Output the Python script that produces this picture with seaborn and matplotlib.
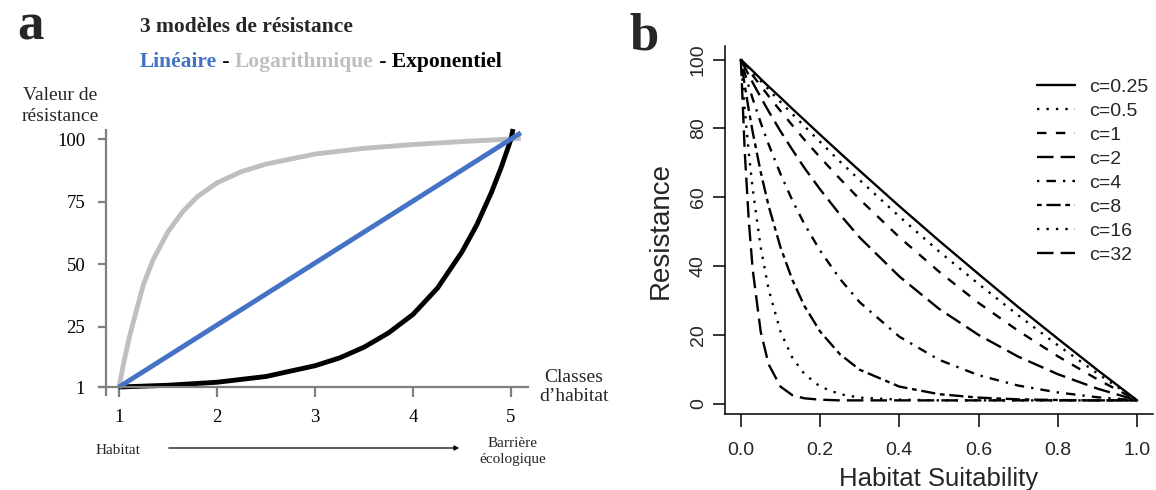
import pandas as pd
import matplotlib.pyplot as plt
import seaborn as sns
from matplotlib.lines import Line2D

# ---- panel a : 3 modeles de resistance
classes_lin = [1, 2, 3, 4, 5, 5.1]
res_lin = [1, 25.75, 50.5, 75.25, 100, 102.5]
classes_log = [1, 1.05, 1.1, 1.18, 1.25, 1.35, 1.5, 1.65, 1.8, 2, 2.25, 2.5, 3, 3.5, 4, 4.5, 5, 5.1]
res_log = [1, 11, 20, 32, 42, 52, 63, 71, 77, 82.5, 87, 90, 94, 96.3, 97.8, 99, 100, 100.3]
classes_exp = [1, 1.5, 2, 2.5, 3, 3.25, 3.5, 3.75, 4, 4.25, 4.5, 4.65, 4.8, 4.9, 5, 5.02]
res_exp = [1, 1.7, 2.9, 5.2, 9.5, 12.6, 16.9, 22.6, 30, 40.5, 55, 65.7, 78.7, 88.7, 100, 104]
yticks_a = [1, 25, 50, 75, 100]
xticks_a = [1, 2, 3, 4, 5]

# ---- panel b : resistance vs habitat suitability
suitability = [0, 0.01, 0.02, 0.03, 0.05, 0.07, 0.1, 0.13, 0.16, 0.2, 0.25,
               0.3, 0.4, 0.5, 0.6, 0.7, 0.8, 0.9, 1.0]
r_c025 = [100, 98.9, 97.8, 96.7, 94.4, 92.2, 89.0, 85.7, 82.5, 78.2, 72.9, 67.7, 57.4, 47.4, 37.7, 28.1, 18.9, 9.8, 1]
r_c05 = [100, 98.7, 97.5, 96.3, 93.8, 91.3, 87.7, 84.2, 80.7, 76.1, 70.4, 65.0, 54.4, 44.3, 34.8, 25.7, 17.0, 8.8, 1]
r_c1 = [100, 98.4, 96.9, 95.4, 92.4, 89.4, 85.1, 80.9, 76.8, 71.6, 65.4, 59.4, 48.4, 38.4, 29.3, 21.2, 13.8, 7.1, 1]
r_c2 = [100, 97.7, 95.5, 93.3, 89.1, 85.0, 79.2, 73.8, 68.6, 62.3, 55.0, 48.3, 37.0, 27.6, 20.0, 13.7, 8.6, 4.4, 1]
r_c4 = [100, 96.0, 92.2, 88.6, 81.7, 75.4, 66.8, 59.1, 52.3, 44.5, 36.3, 29.5, 19.5, 12.8, 8.3, 5.3, 3.3, 1.9, 1]
r_c8 = [100, 92.4, 85.4, 78.9, 67.4, 57.5, 45.5, 36.0, 28.5, 21.0, 14.4, 9.9, 5.0, 2.8, 1.8, 1.3, 1.1, 1.0, 1]
r_c16 = [100, 85.4, 72.9, 62.3, 45.5, 33.3, 21.0, 13.4, 8.7, 5.0, 2.8, 1.8, 1.2, 1.0, 1, 1, 1, 1, 1]
r_c32 = [100, 72.9, 53.2, 38.9, 21.0, 11.5, 5.0, 2.5, 1.6, 1.2, 1.0, 1, 1, 1, 1, 1, 1, 1, 1]
c_labels = ['c=0.25', 'c=0.5', 'c=1', 'c=2', 'c=4', 'c=8', 'c=16', 'c=32']
c_series = [r_c025, r_c05, r_c1, r_c2, r_c4, r_c8, r_c16, r_c32]

sns.set_theme(style='ticks')
plt.rcParams['font.family'] = ['Liberation Serif', 'DejaVu Serif']

W, H = 1156, 490
fig = plt.figure(figsize=(W / 100, H / 100), dpi=100)


def fpos(x, y):
    # pixel position (from top left) -> figure fraction
    return x / W, 1 - y / H


BLUE = '#4472C4'
GREY = '#BFBFBF'
AXGREY = '#7F7F7F'

# ================= panel a =================
ax_a = fig.add_axes([99 / W, 1 - 395 / H, (528 - 99) / W, (395 - 124) / H])
df_a = pd.DataFrame({
    'classe': classes_log + classes_exp + classes_lin,
    'valeur': res_log + res_exp + res_lin,
    'modele': ['Logarithmique'] * len(classes_log) + ['Exponentiel'] * len(classes_exp)
              + ['Linéaire'] * len(classes_lin),
})
sns.lineplot(data=df_a, x='classe', y='valeur', hue='modele',
             hue_order=['Logarithmique', 'Exponentiel', 'Linéaire'],
             palette={'Logarithmique': GREY, 'Exponentiel': 'black', 'Linéaire': BLUE},
             estimator=None, lw=3.5, legend=False, ax=ax_a)
for ln in ax_a.lines:
    ln.set_clip_on(False)
    ln.set_solid_capstyle('butt')
    ln.set_solid_joinstyle('round')

ax_a.set_xlim(0.796, 5.173)
ax_a.set_ylim(-2.19, 106)
ax_a.spines[['top', 'right']].set_visible(False)
ax_a.spines['left'].set_position(('data', 0.867))
ax_a.spines['left'].set_bounds(-2.19, 103.6)
ax_a.spines['bottom'].set_position(('data', 1))
for s in ['left', 'bottom']:
    ax_a.spines[s].set_color(AXGREY)
    ax_a.spines[s].set_linewidth(1.6)
ax_a.set_xticks(xticks_a)
ax_a.set_yticks(yticks_a)
ax_a.tick_params(axis='both', colors=AXGREY, width=1.6, labelcolor='black', labelsize=13.5)
ax_a.tick_params(axis='y', length=6, pad=9)
ax_a.tick_params(axis='x', length=7, pad=9)
ax_a.set_xlabel('')
ax_a.set_ylabel('')

fig.text(*fpos(30, 40), 'a', fontsize=38, fontweight='bold', ha='center', va='baseline')
fig.text(*fpos(140, 27), '3 modèles de résistance', fontsize=15.5, fontweight='bold', va='center')

t = fig.text(*fpos(140, 62), 'Linéaire', color=BLUE, fontsize=15.5, fontweight='bold', va='center')
for part, col in [(' - ', 'black'), ('Logarithmique', GREY), (' - Exponentiel', 'black')]:
    t = ax_a.annotate(part, xy=(1, 0), xycoords=t, ha='left', va='bottom',
                      color=col, fontsize=15.5, fontweight='bold', annotation_clip=False)

fig.text(*fpos(60, 106), 'Valeur de\nrésistance', fontsize=14, ha='center', va='center',
         linespacing=1.25)
fig.text(*fpos(574, 387), 'Classes\nd\u2019habitat', fontsize=14, ha='center', va='center',
         linespacing=1.2)
fig.text(*fpos(118, 450), 'Habitat', fontsize=11, ha='center', va='center')
fig.text(*fpos(513, 451), 'Barrière\nécologique', fontsize=11, ha='center', va='center',
         linespacing=1.3)
ax_a.annotate('', xy=fpos(462, 448), xytext=fpos(166, 448), xycoords='figure fraction',
              textcoords='figure fraction',
              arrowprops=dict(arrowstyle='-|>', color='black', lw=0.9, mutation_scale=7))

# ================= panel b =================
ax_b = fig.add_axes([725 / W, 1 - 414 / H, (1153 - 725) / W, (414 - 46) / H])
df_b = pd.DataFrame({
    'h': suitability * len(c_labels),
    'R': [v for serie in c_series for v in serie],
    'c': [lab for lab in c_labels for _ in suitability],
})
dash_map = {
    'c=0.25': '',
    'c=0.5': (1, 3),
    'c=1': (4, 4),
    'c=2': (7, 3),
    'c=4': (1, 3, 4, 3),
    'c=8': (2, 2, 6, 2),
    'c=16': (1, 3),
    'c=32': (7, 3),
}
sns.lineplot(data=df_b, x='h', y='R', style='c', style_order=c_labels, dashes=dash_map,
             color='black', lw=1.7, estimator=None, legend=False, ax=ax_b)

ax_b.set_xlim(-0.04, 1.04)
ax_b.set_ylim(-2.96, 103.96)
ax_b.spines[['top', 'right']].set_visible(False)
for s in ['left', 'bottom']:
    ax_b.spines[s].set_linewidth(1.1)
    ax_b.spines[s].set_color('black')
ax_b.set_xticks([0, 0.2, 0.4, 0.6, 0.8, 1.0])
ax_b.set_xticklabels(['0.0', '0.2', '0.4', '0.6', '0.8', '1.0'])
ax_b.set_yticks([0, 20, 40, 60, 80, 100])
ax_b.set_yticklabels(['0', '20', '40', '60', '80', '100'], rotation=90, va='center')
ax_b.tick_params(axis='both', length=9, width=1.1, color='black', labelsize=14)
ax_b.tick_params(axis='x', pad=11)
ax_b.tick_params(axis='y', pad=4)
for lab in ax_b.get_xticklabels() + ax_b.get_yticklabels():
    lab.set_family('Liberation Sans')

ax_b.set_xlabel('Habitat Suitability', fontsize=18.5, family='Liberation Sans')
ax_b.set_ylabel('Resistance', fontsize=20, family='Liberation Sans')
ax_b.xaxis.set_label_coords(0.5, -0.145)
ax_b.yaxis.set_label_coords(-0.12, 0.5)

handles = []
for lab in c_labels:
    h = Line2D([], [], color='black', lw=1.7)
    h.set_dashes(dash_map[lab])
    handles.append(h)
ax_b.legend(handles, c_labels, loc='upper left', bbox_to_anchor=fpos(1037, 78),
            bbox_transform=fig.transFigure, frameon=False, borderpad=0, borderaxespad=0,
            handlelength=1.95, handletextpad=0.72, labelspacing=0.33,
            prop={'family': 'Liberation Sans', 'size': 14})

fig.text(*fpos(644, 50), 'b', fontsize=38, fontweight='bold', ha='center', va='baseline')

fig.savefig('out.png', dpi=100)
